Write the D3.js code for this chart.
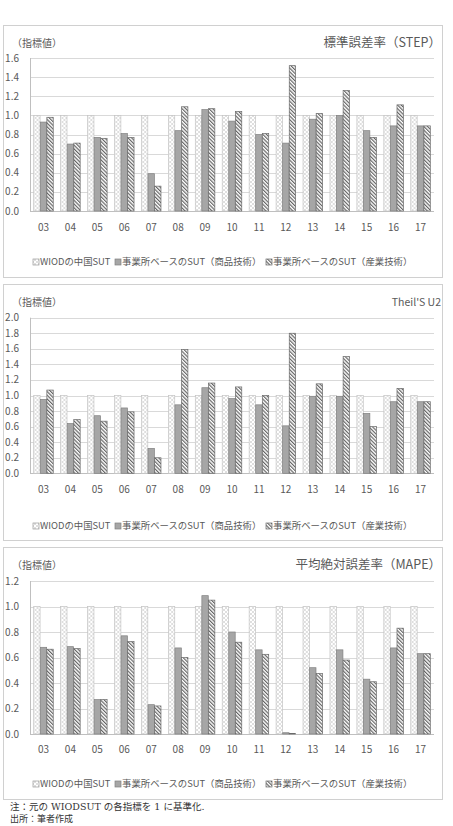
<!DOCTYPE html>
<html>
<head>
<meta charset="utf-8">
<script src="https://cdn.jsdelivr.net/npm/d3@7"></script>
<style>
  body { margin: 0; background: #fff; }
  text { font-family: "Noto Sans CJK JP", "Noto Sans", sans-serif; fill: #595959; }
</style>
</head>
<body>
<svg width="453" height="826"></svg>
<script>
const years = ['03','04','05','06','07','08','09','10','11','12','13','14','15','16','17'];
const seriesNames = ['WIODの中国SUT', '事業所ベースのSUT（商品技術）', '事業所ベースのSUT（産業技術）'];

// WIOD baseline (normalised to 1)
const wiod = [1.0, 1.0, 1.0, 1.0, 1.0, 1.0, 1.0, 1.0, 1.0, 1.0, 1.0, 1.0, 1.0, 1.0, 1.0];

// 標準誤差率 (STEP)
const stepCommodity = [0.93, 0.70, 0.77, 0.81, 0.39, 0.84, 1.06, 0.94, 0.80, 0.71, 0.96, 1.00, 0.84, 0.89, 0.89];
const stepIndustry  = [0.98, 0.71, 0.76, 0.77, 0.26, 1.09, 1.07, 1.04, 0.81, 1.52, 1.02, 1.26, 0.77, 1.11, 0.89];

// Theil's U2
const theilCommodity = [0.95, 0.64, 0.74, 0.84, 0.32, 0.88, 1.10, 0.96, 0.88, 0.61, 0.99, 0.99, 0.77, 0.92, 0.92];
const theilIndustry  = [1.07, 0.69, 0.67, 0.79, 0.20, 1.59, 1.16, 1.11, 1.00, 1.80, 1.15, 1.50, 0.60, 1.09, 0.92];

// 平均絶対誤差率 (MAPE)
const mapeCommodity = [0.68, 0.685, 0.27, 0.77, 0.23, 0.675, 1.085, 0.80, 0.66, 0.01, 0.52, 0.66, 0.43, 0.675, 0.63];
const mapeIndustry  = [0.665, 0.67, 0.27, 0.725, 0.22, 0.60, 1.05, 0.72, 0.625, 0.005, 0.475, 0.58, 0.41, 0.83, 0.63];

const svg = d3.select('svg');
const defs = svg.append('defs');

// light cross pattern for the WIOD bars
const pw = defs.append('pattern')
  .attr('id', 'wiodPat').attr('patternUnits', 'userSpaceOnUse')
  .attr('width', 4).attr('height', 4);
pw.append('rect').attr('width', 4).attr('height', 4).attr('fill', '#fff');
pw.append('path').attr('d', 'M0,0L4,4M4,0L0,4').attr('stroke', '#d6d6d6').attr('stroke-width', 0.8);

// diagonal hatch for industry technology bars
const ph = defs.append('pattern')
  .attr('id', 'hatchPat').attr('patternUnits', 'userSpaceOnUse')
  .attr('width', 2.6).attr('height', 2.6)
  .attr('patternTransform', 'rotate(-45)');
ph.append('rect').attr('width', 2.6).attr('height', 2.6).attr('fill', '#fff');
ph.append('line').attr('x1', 0.6).attr('y1', 0).attr('x2', 0.6).attr('y2', 2.6)
  .attr('stroke', '#5a5a5a').attr('stroke-width', 1.1);

const styles = [
  {fill: 'url(#wiodPat)', stroke: '#c4c4c4'},
  {fill: '#a6a6a6', stroke: '#808080'},
  {fill: 'url(#hatchPat)', stroke: '#6a6a6a'}
];

const panels = [
  {title: '標準誤差率（STEP）', box: [25, 277], plot: [58, 211], yMax: 1.6, xLab: 227, legend: 262,
   series: [wiod, stepCommodity, stepIndustry]},
  {title: "Theil'S U2", box: [284, 540], plot: [317.7, 473.3], yMax: 2.0, xLab: 489, legend: 526,
   series: [wiod, theilCommodity, theilIndustry]},
  {title: '平均絶対誤差率（MAPE）', box: [547, 799], plot: [581, 734], yMax: 1.2, xLab: 749, legend: 784,
   series: [wiod, mapeCommodity, mapeIndustry]}
];

const plotLeft = 30, plotRight = 434;

const x0 = d3.scaleBand().domain(years).range([plotLeft, plotRight])
  .paddingInner(0.26).paddingOuter(0.13);
const x1 = d3.scaleBand().domain([0, 1, 2]).range([0, x0.bandwidth()]).padding(0.03);

panels.forEach(p => {
  const g = svg.append('g');

  g.append('rect')
    .attr('x', 3.5).attr('y', p.box[0] + 0.5)
    .attr('width', 439).attr('height', p.box[1] - p.box[0])
    .attr('fill', '#fff').attr('stroke', '#d0d0d0');

  const y = d3.scaleLinear().domain([0, p.yMax]).range([p.plot[1], p.plot[0]]);
  const ticks = d3.range(0, p.yMax + 0.001, 0.2);

  // gridlines
  g.append('g').selectAll('line').data(ticks).join('line')
    .attr('x1', plotLeft).attr('x2', plotRight)
    .attr('y1', d => Math.round(y(d)) + 0.5).attr('y2', d => Math.round(y(d)) + 0.5)
    .attr('stroke', d => d === 0 ? '#bfbfbf' : '#d9d9d9');

  g.append('line')
    .attr('x1', plotLeft + 0.5).attr('x2', plotLeft + 0.5)
    .attr('y1', y(p.yMax)).attr('y2', y(0))
    .attr('stroke', '#bfbfbf');

  g.append('g').selectAll('text').data(ticks).join('text')
    .attr('x', 19).attr('y', d => y(d))
    .attr('dy', '0.35em')
    .attr('text-anchor', 'end')
    .attr('font-size', 10)
    .text(d => d.toFixed(1));

  // bars
  const groups = g.append('g').selectAll('g').data(years).join('g')
    .attr('transform', d => `translate(${x0(d)},0)`);

  groups.selectAll('rect')
    .data((d, i) => p.series.map((s, k) => ({k, v: s[i]})))
    .join('rect')
      .attr('x', d => x1(d.k))
      .attr('y', d => y(d.v))
      .attr('width', x1.bandwidth())
      .attr('height', d => y(0) - y(d.v))
      .attr('fill', d => styles[d.k].fill)
      .attr('stroke', d => styles[d.k].stroke)
      .attr('stroke-width', 0.7);

  // x labels
  g.append('g').selectAll('text').data(years).join('text')
    .attr('x', d => x0(d) + x0.bandwidth() / 2)
    .attr('y', p.xLab).attr('dy', '0.35em')
    .attr('text-anchor', 'middle')
    .attr('font-size', 10)
    .text(d => d);

  // headers
  g.append('text').attr('x', 12).attr('y', p.box[0] + 18).attr('dy', '0.35em')
    .attr('font-size', 10).text('（指標値）');
  g.append('text').attr('x', 441).attr('y', p.box[0] + 18).attr('dy', '0.35em')
    .attr('text-anchor', 'end')
    .attr('font-size', p.title.startsWith('Theil') ? 10.5 : 12.5)
    .text(p.title);

  // legend
  const legX = [33, 115, 266];
  const leg = g.append('g').selectAll('g').data(seriesNames).join('g')
    .attr('transform', (d, i) => `translate(${legX[i]},${p.legend})`);
  leg.append('rect')
    .attr('x', 0).attr('y', -3).attr('width', 6).attr('height', 6)
    .attr('fill', (d, i) => styles[i].fill)
    .attr('stroke', (d, i) => i === 0 ? '#999' : styles[i].stroke)
    .attr('stroke-width', 0.7);
  leg.append('text')
    .attr('x', 7).attr('y', 0).attr('dy', '0.35em')
    .attr('font-size', 9.4)
    .text(d => d);
});

// notes
svg.append('text').attr('x', 10).attr('y', 807).attr('dy', '0.35em')
  .attr('font-size', 9.5)
  .style('font-family', '"DejaVu Serif", "Noto Sans CJK JP", serif')
  .style('fill', '#333')
  .text('注：元の WIODSUT の各指標を 1 に基準化.');
svg.append('text').attr('x', 10).attr('y', 819).attr('dy', '0.35em')
  .attr('font-size', 9)
  .style('fill', '#333')
  .text('出所：筆者作成');
</script>
</body>
</html>
